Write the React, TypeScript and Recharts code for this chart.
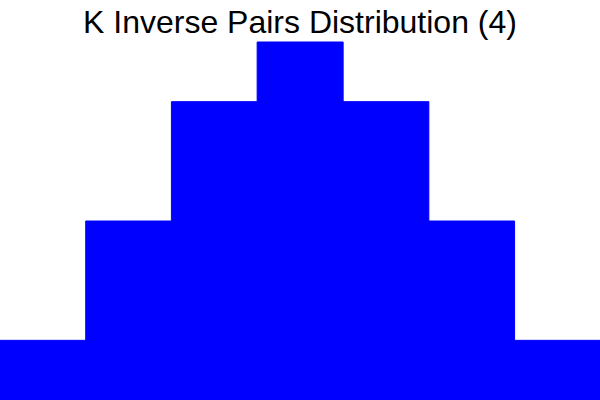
import { BarChart, Bar, XAxis, YAxis } from 'recharts'

// number of permutations of 1..4 with k inverse pairs
const K_VALUES = ['0', '1', '2', '3', '4', '5', '6']
const COUNTS = [1, 3, 5, 6, 5, 3, 1]

const data = K_VALUES.map((k, i) => ({ k, count: COUNTS[i] }))

export default function App() {
  return (
    <div style={{ position: 'fixed', left: 0, top: 0, width: 600, height: 400, background: '#fff' }}>
      <div
        style={{
          position: 'absolute',
          top: 6,
          left: 0,
          width: 600,
          textAlign: 'center',
          fontFamily: '"Liberation Sans", Arial, sans-serif',
          fontSize: 32,
          lineHeight: '32px',
          color: '#000',
        }}
      >
        K Inverse Pairs Distribution (4)
      </div>
      <BarChart
        width={600}
        height={400}
        data={data}
        margin={{ top: 42, right: 0, bottom: 0, left: 0 }}
        barCategoryGap={0}
      >
        <XAxis dataKey="k" hide />
        <YAxis hide domain={[0, 6]} />
        {/* same-colour stroke hides the antialiasing seams between bars */}
        <Bar dataKey="count" fill="#0000ff" stroke="#0000ff" strokeWidth={1} isAnimationActive={false} />
      </BarChart>
    </div>
  )
}
